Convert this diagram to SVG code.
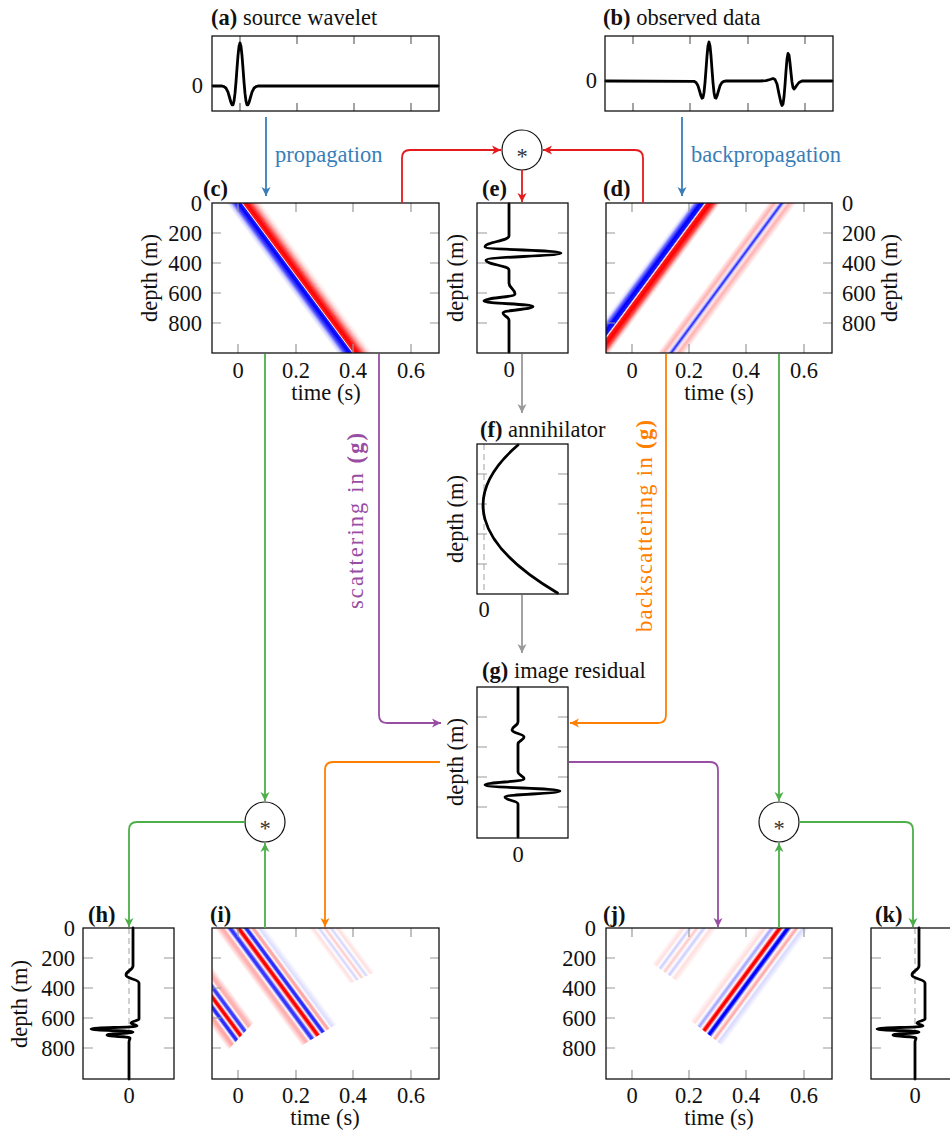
<svg xmlns="http://www.w3.org/2000/svg" width="950" height="1135" viewBox="0 0 950 1135" font-family="'Liberation Serif', 'Times New Roman', 'DejaVu Serif', serif">
<style>
.t{font-family:'Liberation Serif','Times New Roman','DejaVu Serif',serif;font-size:22.5px;fill:#111}
.b{font-weight:bold}
.m{text-anchor:middle}
.e{text-anchor:end}
.fr{fill:none;stroke:#111;stroke-width:1.3}
.tk{stroke:#999;stroke-width:1.2}
.tkd{stroke:#666;stroke-width:1.2}
.tr{fill:none;stroke:#000;stroke-width:2.8;stroke-linejoin:round;stroke-linecap:round}
.dz{stroke:#aaa;stroke-width:1.1;stroke-dasharray:6 4}
.c{fill:none;stroke-width:1.8}
.op{fill:#fff;stroke:#111;stroke-width:1.2}
</style>
<defs>
<marker id="mB" viewBox="-10 -5 12 10" refX="0" refY="0" markerWidth="12" markerHeight="10" markerUnits="userSpaceOnUse" orient="auto"><path d="M0,0 L-9,-4.5 L-6.5,0 L-9,4.5 Z" fill="#377eb8"/></marker>
<marker id="mR" viewBox="-10 -5 12 10" refX="0" refY="0" markerWidth="12" markerHeight="10" markerUnits="userSpaceOnUse" orient="auto"><path d="M0,0 L-9,-4.5 L-6.5,0 L-9,4.5 Z" fill="#e41a1c"/></marker>
<marker id="mG" viewBox="-10 -5 12 10" refX="0" refY="0" markerWidth="12" markerHeight="10" markerUnits="userSpaceOnUse" orient="auto"><path d="M0,0 L-9,-4.5 L-6.5,0 L-9,4.5 Z" fill="#4daf4a"/></marker>
<marker id="mP" viewBox="-10 -5 12 10" refX="0" refY="0" markerWidth="12" markerHeight="10" markerUnits="userSpaceOnUse" orient="auto"><path d="M0,0 L-9,-4.5 L-6.5,0 L-9,4.5 Z" fill="#984ea3"/></marker>
<marker id="mO" viewBox="-10 -5 12 10" refX="0" refY="0" markerWidth="12" markerHeight="10" markerUnits="userSpaceOnUse" orient="auto"><path d="M0,0 L-9,-4.5 L-6.5,0 L-9,4.5 Z" fill="#ff7f00"/></marker>
<marker id="mK" viewBox="-10 -5 12 10" refX="0" refY="0" markerWidth="12" markerHeight="10" markerUnits="userSpaceOnUse" orient="auto"><path d="M0,0 L-9,-4.5 L-6.5,0 L-9,4.5 Z" fill="#999"/></marker>

<linearGradient id="gc" gradientUnits="userSpaceOnUse" x1="225" y1="0" x2="265" y2="0" gradientTransform="translate(0,203) skewX(36.5) translate(0,-203)">
<stop offset="0.025" stop-color="#fff"/><stop offset="0.125" stop-color="#d0d0ff"/><stop offset="0.225" stop-color="#4a4aff"/><stop offset="0.325" stop-color="#00f"/><stop offset="0.4" stop-color="#2020ff"/><stop offset="0.425" stop-color="#fff"/><stop offset="0.45" stop-color="#ff2020"/><stop offset="0.5375" stop-color="#f00"/><stop offset="0.625" stop-color="#ff3a3a"/><stop offset="0.725" stop-color="#ffa0a0"/><stop offset="0.825" stop-color="#ffe4e4"/><stop offset="0.925" stop-color="#fff"/>
</linearGradient>
<linearGradient id="gd" gradientUnits="userSpaceOnUse" x1="690" y1="0" x2="800" y2="0" gradientTransform="translate(0,203) skewX(-36.5) translate(0,-203)">
<stop offset="0" stop-color="#fff"/><stop offset="0.0273" stop-color="#e0e0ff"/><stop offset="0.0545" stop-color="#7070ff"/><stop offset="0.0909" stop-color="#00f"/><stop offset="0.1273" stop-color="#1818ff"/><stop offset="0.1409" stop-color="#fff"/><stop offset="0.1545" stop-color="#ff1818"/><stop offset="0.1909" stop-color="#f00"/><stop offset="0.2273" stop-color="#ff5050"/><stop offset="0.2545" stop-color="#ffc0c0"/><stop offset="0.2818" stop-color="#fff"/><stop offset="0.7091" stop-color="#fff"/><stop offset="0.7364" stop-color="#ffd8d8"/><stop offset="0.7682" stop-color="#ffb0b0"/><stop offset="0.8" stop-color="#ffe6e6"/><stop offset="0.8136" stop-color="#ccf"/><stop offset="0.8364" stop-color="#2020ff"/><stop offset="0.8591" stop-color="#ccf"/><stop offset="0.8727" stop-color="#ffe6e6"/><stop offset="0.9045" stop-color="#ffb0b0"/><stop offset="0.9364" stop-color="#ffd8d8"/><stop offset="0.9727" stop-color="#fff"/>
</linearGradient>
<linearGradient id="gi1" gradientUnits="userSpaceOnUse" x1="138" y1="0" x2="184" y2="0" gradientTransform="translate(0,928) skewX(36.5) translate(0,-928)">
<stop offset="0" stop-color="#fff"/><stop offset="0.1478" stop-color="#ffa8a8"/><stop offset="0.2" stop-color="#ffa8a8"/><stop offset="0.2554" stop-color="#fff"/><stop offset="0.3109" stop-color="#2a2aff"/><stop offset="0.363" stop-color="#2a2aff"/><stop offset="0.4185" stop-color="#fff"/><stop offset="0.4739" stop-color="#f00"/><stop offset="0.5261" stop-color="#f00"/><stop offset="0.5815" stop-color="#fff"/><stop offset="0.637" stop-color="#3a3aff"/><stop offset="0.6891" stop-color="#3a3aff"/><stop offset="0.7446" stop-color="#fff"/><stop offset="0.8" stop-color="#ffb0b0"/><stop offset="0.8522" stop-color="#ffb0b0"/><stop offset="1" stop-color="#fff"/>
</linearGradient>
<linearGradient id="gi2" gradientUnits="userSpaceOnUse" x1="214" y1="0" x2="266" y2="0" gradientTransform="translate(0,928) skewX(36.5) translate(0,-928)">
<stop offset="0" stop-color="#fff"/><stop offset="0.1308" stop-color="#ffb0b0"/><stop offset="0.1769" stop-color="#ffb0b0"/><stop offset="0.2308" stop-color="#fff"/><stop offset="0.2846" stop-color="#3535ff"/><stop offset="0.3308" stop-color="#3535ff"/><stop offset="0.3894" stop-color="#fff"/><stop offset="0.4481" stop-color="#f00"/><stop offset="0.4942" stop-color="#f00"/><stop offset="0.5433" stop-color="#fff"/><stop offset="0.5923" stop-color="#2a2aff"/><stop offset="0.6385" stop-color="#2a2aff"/><stop offset="0.6827" stop-color="#fff"/><stop offset="0.7269" stop-color="#ffa8a8"/><stop offset="0.7731" stop-color="#ffa8a8"/><stop offset="0.8077" stop-color="#fff"/><stop offset="0.8654" stop-color="#dcdcff"/><stop offset="1" stop-color="#fff"/>
</linearGradient>
<linearGradient id="gi3" gradientUnits="userSpaceOnUse" x1="308" y1="0" x2="342" y2="0" gradientTransform="translate(0,928) skewX(36.5) translate(0,-928)">
<stop offset="0" stop-color="#fff"/><stop offset="0.1471" stop-color="#ffdede"/><stop offset="0.2353" stop-color="#fff"/><stop offset="0.3235" stop-color="#d4d4ff"/><stop offset="0.4118" stop-color="#fff"/><stop offset="0.5" stop-color="#ffc8c8"/><stop offset="0.5882" stop-color="#fff"/><stop offset="0.6765" stop-color="#d4d4ff"/><stop offset="0.7647" stop-color="#fff"/><stop offset="0.8529" stop-color="#ffdede"/><stop offset="1" stop-color="#fff"/>
</linearGradient>
<linearGradient id="gj1" gradientUnits="userSpaceOnUse" x1="758" y1="0" x2="810" y2="0" gradientTransform="translate(0,928) skewX(-36.5) translate(0,-928)">
<stop offset="0" stop-color="#fff"/><stop offset="0.1346" stop-color="#ffdcdc"/><stop offset="0.2019" stop-color="#fff"/><stop offset="0.2692" stop-color="#a0a0ff"/><stop offset="0.3462" stop-color="#fff"/><stop offset="0.4" stop-color="#f00"/><stop offset="0.4462" stop-color="#f00"/><stop offset="0.5" stop-color="#fff"/><stop offset="0.5538" stop-color="#00f"/><stop offset="0.6" stop-color="#00f"/><stop offset="0.6635" stop-color="#fff"/><stop offset="0.75" stop-color="#ffa0a0"/><stop offset="0.8077" stop-color="#fff"/><stop offset="0.8654" stop-color="#d8d8ff"/><stop offset="1" stop-color="#fff"/>
</linearGradient>
<linearGradient id="gj2" gradientUnits="userSpaceOnUse" x1="678" y1="0" x2="718" y2="0" gradientTransform="translate(0,928) skewX(-36.5) translate(0,-928)">
<stop offset="0" stop-color="#fff"/><stop offset="0.15" stop-color="#ffdede"/><stop offset="0.225" stop-color="#fff"/><stop offset="0.3" stop-color="#ccccff"/><stop offset="0.3875" stop-color="#fff"/><stop offset="0.475" stop-color="#ffc8c8"/><stop offset="0.5625" stop-color="#fff"/><stop offset="0.65" stop-color="#ccccff"/><stop offset="0.7375" stop-color="#fff"/><stop offset="0.825" stop-color="#ffdede"/><stop offset="1" stop-color="#fff"/>
</linearGradient>
<filter id="bl" x="-10%" y="-10%" width="120%" height="120%"><feGaussianBlur stdDeviation="0.7"/></filter>
<clipPath id="ci"><rect x="212" y="928" width="227" height="151"/></clipPath>
<clipPath id="cj"><rect x="606" y="928" width="226" height="151"/></clipPath>
<path id="htr" d="M133,928 L133,966 C133,970 126,971 126,975 C126,978.6 139,979.4 139,983 L139,1019 C139,1020.8 131,1021.2 131,1023 C131,1024.35 137,1024.65 137,1026 C137,1027.35 91,1027.65 91,1029 C91,1030.35 133,1030.65 133,1032 C133,1033.35 107,1033.65 107,1035 C107,1036.35 130,1036.65 130,1038 C130,1039.8 129,1040.2 129,1042 L129,1079"/>
</defs>
<rect width="950" height="1135" fill="#fff"/>

<g id="a">
<text class="t" x="211" y="25"><tspan class="b">(a)</tspan> source wavelet</text>
<g class="tkd"><path d="M240,36v8M297,36v8M354,36v8M411,36v8M240,111v-8M297,111v-8M354,111v-8M411,111v-8"/></g>
<polyline class="tr" points="213,86 222,86 224,86.6 226,88.2 228,92.2 230,99 231,102.5 232,104.8 233,104.8 234,101.1 235,93.4 236,81.9 237,68.4 238,55.6 239,46.4 240,43 241,46.4 242,55.6 243,68.4 244,81.9 245,93.4 246,101.1 247,104.8 248,104.8 249,102.5 250,99 252,92.2 254,88.2 256,86.6 258,86 438,86"/>
<rect class="fr" x="212" y="36" width="227" height="75"/>
<text class="t e" x="203" y="93">0</text>
</g>

<g id="b">
<text class="t" x="603" y="25"><tspan class="b">(b)</tspan> observed data</text>
<g class="tkd"><path d="M633,36v8M690,36v8M748,36v8M805,36v8M633,111v-8M690,111v-8M748,111v-8M805,111v-8"/></g>
<polyline class="tr" points="606,81 694,81.3 696,82.4 698,85.8 700,92.5 701,96 702,98.2 703,97.5 704,92.4 705,82.6 706,69.5 707,56 708,45.8 709,42 710,45.8 711,56 712,69.5 713,82.6 714,92.4 715,97.5 716,98.2 717,96 718,92.5 720,85.8 722,82.4 724,81.3 726,81 760,81 766,80.6 770,79.5 773,78.5 775,79.5 777,84 779,94 781,103 782,105.5 783,104 784,97 785,85 786,71 787,59 788,53.5 789,55 790,63 791,73 792,82 793,87.5 794,89 795,88 797,85 799,82.5 802,81 832,81"/>
<rect class="fr" x="605" y="36" width="228" height="75"/>
<text class="t e" x="597" y="88">0</text>
</g>

<g id="c">
<text class="t b" x="203" y="196">(c)</text>
<rect x="212" y="203" width="227" height="150" fill="url(#gc)"/>
<g class="tk"><path d="M238,203v9M296,203v9M353,203v9M411,203v9M238,353v-9M296,353v-9M353,353v-9M411,353v-9M212,233h9M212,263h9M212,293h9M212,323h9M439,233h-9M439,263h-9M439,293h-9M439,323h-9"/></g>
<rect class="fr" x="212" y="203" width="227" height="150"/>
<text class="t e" x="202" y="210.5">0</text><text class="t e" x="202" y="240.5">200</text><text class="t e" x="202" y="270.5">400</text><text class="t e" x="202" y="300.5">600</text><text class="t e" x="202" y="330.5">800</text>
<text class="t m" x="238" y="378">0</text><text class="t m" x="296" y="378">0.2</text><text class="t m" x="353" y="378">0.4</text><text class="t m" x="411" y="378">0.6</text>
<text class="t m" x="326" y="400">time (s)</text>
<text class="t m" transform="translate(157,278) rotate(-90)">depth (m)</text>
</g>

<g id="d">
<text class="t b" x="603" y="196">(d)</text>
<rect x="606" y="203" width="226" height="150" fill="url(#gd)"/>
<g class="tk"><path d="M632,203v9M689,203v9M746,203v9M804,203v9M632,353v-9M689,353v-9M746,353v-9M804,353v-9M606,233h9M606,263h9M606,293h9M606,323h9M832,233h-9M832,263h-9M832,293h-9M832,323h-9"/></g>
<rect class="fr" x="606" y="203" width="226" height="150"/>
<text class="t" x="842" y="210.5">0</text><text class="t" x="842" y="240.5">200</text><text class="t" x="842" y="270.5">400</text><text class="t" x="842" y="300.5">600</text><text class="t" x="842" y="330.5">800</text>
<text class="t m" x="632" y="378">0</text><text class="t m" x="689" y="378">0.2</text><text class="t m" x="746" y="378">0.4</text><text class="t m" x="804" y="378">0.6</text>
<text class="t m" x="719" y="400">time (s)</text>
<text class="t m" transform="translate(897,278) rotate(-90)">depth (m)</text>
</g>

<g id="e">
<text class="t b" x="482" y="196">(e)</text>
<g class="tk"><path d="M477,233h10M477,263h10M477,293h10M477,323h10M568,233h-10M568,263h-10M568,293h-10M568,323h-10"/></g>
<path class="tr" d="M509,204 L509,236 C509,241 485,242 485,247 C485,249.7 561,250.3 561,253 C561,256.1 486,256.9 486,260 C486,264.5 509,265.5 509,270 L509,283 C509,288 515,289 515,294 C515,297.2 484,297.8 484,301 C484,303.5 533,304 533,306.5 C533,309.4 503,310.1 503,313 C503,316.2 509,316.8 509,320 L509,352"/>
<rect class="fr" x="477" y="203" width="91" height="150"/>
<text class="t m" x="509" y="377">0</text>
<text class="t m" transform="translate(463,278) rotate(-90)">depth (m)</text>
</g>

<g id="f">
<text class="t" x="480" y="437"><tspan class="b">(f)</tspan> annihilator</text>
<line class="dz" x1="484" y1="444" x2="484" y2="594"/>
<g class="tk"><path d="M477,474h10M477,504h10M477,534h10M477,564h10M568,474h-10M568,504h-10M568,534h-10M568,564h-10"/></g>
<path class="tr" d="M518,445 Q432,519 557.5,593"/>
<rect class="fr" x="477" y="444" width="91" height="150"/>
<text class="t m" x="484" y="617">0</text>
<text class="t m" transform="translate(463,519) rotate(-90)">depth (m)</text>
</g>

<g id="g">
<text class="t" x="482" y="678"><tspan class="b">(g)</tspan> image residual</text>
<g class="tk"><path d="M477,717h10M477,747h10M477,777h10M477,807h10M568,717h-10M568,747h-10M568,777h-10M568,807h-10"/></g>
<path class="tr" d="M518,688 L518,722 C518,725.6 512,726.4 512,730 C512,733.2 524,733.8 524,737 C524,740.2 518,740.8 518,744 L518,772 C518,775.2 524,775.8 524,779 C524,781.7 485,782.3 485,785 C485,787.7 560,788.3 560,791 C560,793.7 505,794.3 505,797 C505,800.2 518,800.8 518,804 L518,837"/>
<rect class="fr" x="477" y="687" width="91" height="151"/>
<text class="t m" x="518" y="862">0</text>
<text class="t m" transform="translate(463,762) rotate(-90)">depth (m)</text>
</g>

<g id="h">
<text class="t b" x="88" y="922">(h)</text>
<line class="dz" x1="129" y1="928" x2="129" y2="1079"/>
<g class="tk"><path d="M83,958h10M83,988h10M83,1018h10M83,1048h10M174,958h-10M174,988h-10M174,1018h-10M174,1048h-10"/></g>
<use href="#htr" class="tr"/>
<rect class="fr" x="83" y="928" width="91" height="151"/>
<text class="t e" x="75" y="935.5">0</text><text class="t e" x="75" y="965.5">200</text><text class="t e" x="75" y="995.5">400</text><text class="t e" x="75" y="1025.5">600</text><text class="t e" x="75" y="1055.5">800</text>
<text class="t m" x="129" y="1103">0</text>
<text class="t m" transform="translate(27,1004) rotate(-90)">depth (m)</text>
</g>

<g id="i">
<text class="t b" x="210" y="922">(i)</text>
<g clip-path="url(#ci)"><g filter="url(#bl)">
<polygon points="117,900 163,900 254,1022 228,1050" fill="url(#gi1)"/>
<polygon points="193,900 245,900 337,1024 301,1046" fill="url(#gi2)"/>
<polygon points="287,900 321,900 375,972 349,984" fill="url(#gi3)"/>
</g></g>
<g class="tk"><path d="M238,928v9M296,928v9M353,928v9M411,928v9M238,1079v-9M296,1079v-9M353,1079v-9M411,1079v-9M212,958h9M212,988h9M212,1018h9M212,1048h9M439,958h-9M439,988h-9M439,1018h-9M439,1048h-9"/></g>
<rect class="fr" x="212" y="928" width="227" height="151"/>
<text class="t m" x="238" y="1103">0</text><text class="t m" x="296" y="1103">0.2</text><text class="t m" x="353" y="1103">0.4</text><text class="t m" x="411" y="1103">0.6</text>
<text class="t m" x="325" y="1125">time (s)</text>
</g>

<g id="j">
<text class="t b" x="603" y="922">(j)</text>
<g clip-path="url(#cj)"><g filter="url(#bl)">
<polygon points="779,900 831,900 723,1046 690,1020" fill="url(#gj1)"/>
<polygon points="699,900 739,900 678,982 652,963" fill="url(#gj2)"/>
</g></g>
<g class="tk"><path d="M632,928v9M689,928v9M746,928v9M804,928v9M632,1079v-9M689,1079v-9M746,1079v-9M804,1079v-9M606,958h9M606,988h9M606,1018h9M606,1048h9M832,958h-9M832,988h-9M832,1018h-9M832,1048h-9"/></g>
<rect class="fr" x="606" y="928" width="226" height="151"/>
<text class="t e" x="596" y="935.5">0</text><text class="t e" x="596" y="965.5">200</text><text class="t e" x="596" y="995.5">400</text><text class="t e" x="596" y="1025.5">600</text><text class="t e" x="596" y="1055.5">800</text>
<text class="t m" x="632" y="1103">0</text><text class="t m" x="689" y="1103">0.2</text><text class="t m" x="746" y="1103">0.4</text><text class="t m" x="804" y="1103">0.6</text>
<text class="t m" x="719" y="1125">time (s)</text>
</g>

<g id="k">
<text class="t b" x="875" y="922">(k)</text>
<line class="dz" x1="915" y1="928" x2="915" y2="1079"/>
<g class="tk"><path d="M871,958h10M871,988h10M871,1018h10M871,1048h10"/></g>
<use href="#htr" class="tr" transform="translate(786,0)"/>
<rect class="fr" x="871" y="928" width="91" height="151"/>
<text class="t m" x="915" y="1103">0</text>
</g>

<g id="op1"><circle class="op" cx="522" cy="150" r="20"/><text class="t m" x="522" y="164" style="fill:#333">*</text></g>
<g id="op2"><circle class="op" cx="265" cy="822" r="20"/><text class="t m" x="265" y="836" style="fill:#333">*</text></g>
<g id="op3"><circle class="op" cx="779" cy="822" r="20"/><text class="t m" x="779" y="836" style="fill:#333">*</text></g>

<g id="connectors">
<path class="c" stroke="#377eb8" d="M266,117 V196" marker-end="url(#mB)"/>
<path class="c" stroke="#377eb8" d="M682,117 V196" marker-end="url(#mB)"/>
<text class="t" x="275" y="162" style="fill:#377eb8">propagation</text>
<text class="t" x="691" y="162" style="fill:#377eb8">backpropagation</text>
<path class="c" stroke="#e41a1c" d="M402,203 V158 Q402,150 410,150 H501" marker-end="url(#mR)"/>
<path class="c" stroke="#e41a1c" d="M643,203 V158 Q643,150 635,150 H543" marker-end="url(#mR)"/>
<path class="c" stroke="#e41a1c" d="M522,170 V202" marker-end="url(#mR)"/>
<path class="c" stroke="#999" d="M522,354 V413" marker-end="url(#mK)"/>
<path class="c" stroke="#999" d="M522,595 V653" marker-end="url(#mK)"/>
<path class="c" stroke="#984ea3" d="M379,354 V715 Q379,723 387,723 H441" marker-end="url(#mP)"/>
<path class="c" stroke="#ff7f00" d="M666,354 V715 Q666,723 658,723 H570" marker-end="url(#mO)"/>
<path class="c" stroke="#ff7f00" d="M440,762 H333 Q325,762 325,770 V927" marker-end="url(#mO)"/>
<path class="c" stroke="#984ea3" d="M569,762 H710 Q718,762 718,770 V927" marker-end="url(#mP)"/>
<path class="c" stroke="#4daf4a" d="M265,354 V801" marker-end="url(#mG)"/>
<path class="c" stroke="#4daf4a" d="M265,928 V843" marker-end="url(#mG)"/>
<path class="c" stroke="#4daf4a" d="M245,822 H137 Q129,822 129,830 V927" marker-end="url(#mG)"/>
<path class="c" stroke="#4daf4a" d="M779,354 V801" marker-end="url(#mG)"/>
<path class="c" stroke="#4daf4a" d="M779,928 V843" marker-end="url(#mG)"/>
<path class="c" stroke="#4daf4a" d="M799,822 H905 Q913,822 913,830 V927" marker-end="url(#mG)"/>
<text class="t m" transform="translate(363,521) rotate(-90)" style="fill:#984ea3" textLength="176" lengthAdjust="spacing">scattering in <tspan class="b">(g)</tspan></text>
<text class="t m" transform="translate(652,526) rotate(-90)" style="fill:#ff7f00" textLength="212" lengthAdjust="spacing">backscattering in <tspan class="b">(g)</tspan></text>
</g>
</svg>
